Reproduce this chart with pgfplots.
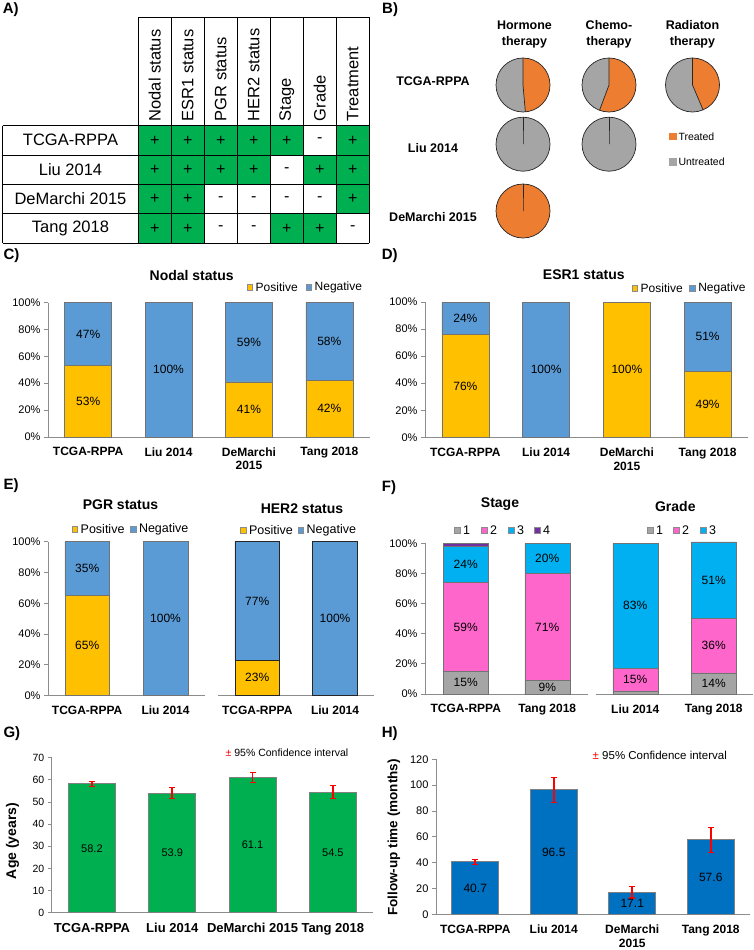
\documentclass[border=0pt]{standalone}
\usepackage{fontspec}
\setmainfont{Liberation Sans}
\usepackage{pgfplots}
\pgfplotsset{compat=1.18}

\definecolor{cPos}{HTML}{FFC000}
\definecolor{cNeg}{HTML}{5B9BD5}
\definecolor{cGreen}{HTML}{00B050}
\definecolor{cBlue}{HTML}{0070C0}
\definecolor{cOrange}{HTML}{ED7D31}
\definecolor{cGray}{HTML}{A5A5A5}
\definecolor{cPink}{HTML}{FF66CC}
\definecolor{cCyan}{HTML}{00B0F0}
\definecolor{cPurple}{HTML}{7030A0}
\definecolor{cAxis}{HTML}{8C8C8C}

\newcommand\fsz[2]{\fontsize{#1}{#2}\selectfont}

\pgfplotsset{
  myBase/.style={scale only axis, clip=false,
    /pgf/number format/assume math mode=true,
    axis line style={cAxis, line width=0.8pt},
    tick style={cAxis, line width=0.8pt},
    tick align=outside, major tick length=4pt,
    xtick style={draw=none},
    xticklabel style={font=\fsz{12}{13.5}\bfseries, align=center, yshift=-3pt},
    yticklabel style={font=\fsz{11}{12}},
    axis x line*=bottom, axis y line*=left,
  },
  myPct/.style={myBase, ybar stacked, ymin=0, ymax=100, ytick={0,20,...,100},
    yticklabel={\pgfmathprintnumber{\tick}\%}},
  myFour/.style={xtick={0,1,2,3}, xmin=-0.5, xmax=3.5,
    xticklabels={TCGA-RPPA, Liu 2014, {DeMarchi\\2015}, Tang 2018}},
}

% pie: centre x, centre y (pixels from top), share treated in percent
\newcommand\drawpie[3]{%
  \fill[cGray] (#1,#2) circle[radius=27pt];
  \fill[cOrange] (#1,#2) -- ++(0pt,27pt) arc[start angle=90, delta angle=-3.6*#3, radius=27pt] -- cycle;
  \draw[black!85, line width=0.7pt] (#1,#2) circle[radius=27pt];
  \draw[black!85, line width=0.7pt] (#1,#2) ++(0pt,27pt) -- (#1,#2) -- ++(90-3.6*#3:27pt);
}

\begin{document}
\begin{tikzpicture}

% ---------- C) nodal status
\begin{axis}[myPct, myFour, at={(48pt,-437pt)}, anchor=south west,
  width=321.5pt, height=134.5pt, bar width=47pt]
  \addplot[fill=cPos, draw=black!55, line width=0.5pt] coordinates {(0,53) (1,0) (2,41) (3,42)};
  \addplot[fill=cNeg, draw=black!55, line width=0.5pt] coordinates {(0,47) (1,100) (2,59) (3,58)};
  \coordinate (c1) at (axis cs:0,26.5);  \coordinate (c2) at (axis cs:0,76.5);
  \coordinate (c3) at (axis cs:1,50);
  \coordinate (c4) at (axis cs:2,20.5);  \coordinate (c5) at (axis cs:2,70.5);
  \coordinate (c6) at (axis cs:3,21);    \coordinate (c7) at (axis cs:3,71);
\end{axis}
\begin{scope}[every node/.style={font=\fsz{12}{12}}]
  \node at (c1) {53\%}; \node at (c2) {47\%}; \node at (c3) {100\%};
  \node at (c4) {41\%}; \node at (c5) {59\%}; \node at (c6) {42\%}; \node at (c7) {58\%};
\end{scope}

% ---------- D) ESR1 status
\begin{axis}[myPct, myFour, at={(425pt,-437.3pt)}, anchor=south west,
  width=323pt, height=135.3pt, bar width=47pt]
  \addplot[fill=cPos, draw=black!55, line width=0.5pt] coordinates {(0,76) (1,0) (2,100) (3,49)};
  \addplot[fill=cNeg, draw=black!55, line width=0.5pt] coordinates {(0,24) (1,100) (2,0) (3,51)};
  \coordinate (d1) at (axis cs:0,38);    \coordinate (d2) at (axis cs:0,88);
  \coordinate (d3) at (axis cs:1,50);    \coordinate (d4) at (axis cs:2,50);
  \coordinate (d5) at (axis cs:3,24.5);  \coordinate (d6) at (axis cs:3,74.5);
\end{axis}
\begin{scope}[every node/.style={font=\fsz{12}{12}}]
  \node at (d1) {76\%}; \node at (d2) {24\%}; \node at (d3) {100\%};
  \node at (d4) {100\%}; \node at (d5) {49\%}; \node at (d6) {51\%};
\end{scope}

% ---------- E) PGR status
\begin{axis}[myPct, at={(48pt,-695.5pt)}, anchor=south west,
  width=156.7pt, height=153.8pt, bar width=44.5pt,
  xtick={0,1}, xmin=-0.5, xmax=1.5, xticklabels={TCGA-RPPA, Liu 2014}]
  \addplot[fill=cPos, draw=black!55, line width=0.5pt] coordinates {(0,65) (1,0)};
  \addplot[fill=cNeg, draw=black!55, line width=0.5pt] coordinates {(0,35) (1,100)};
  \coordinate (e1) at (axis cs:0,32.5);  \coordinate (e2) at (axis cs:0,82.5);
  \coordinate (e3) at (axis cs:1,50);
\end{axis}

% ---------- E) HER2 status
\begin{axis}[myPct, at={(218.3pt,-695.5pt)}, anchor=south west,
  width=155.7pt, height=153.8pt, bar width=44.5pt, axis y line=none,
  xtick={0,1}, xmin=-0.5, xmax=1.5, xticklabels={TCGA-RPPA, Liu 2014}]
  \addplot[fill=cPos, draw=black!85, line width=0.9pt] coordinates {(0,23) (1,0)};
  \addplot[fill=cNeg, draw=black!85, line width=0.9pt] coordinates {(0,77) (1,100)};
  \coordinate (e4) at (axis cs:0,11.5);  \coordinate (e5) at (axis cs:0,61.5);
  \coordinate (e6) at (axis cs:1,50);
\end{axis}
\begin{scope}[every node/.style={font=\fsz{12}{12}}]
  \node at (e1) {65\%}; \node at (e2) {35\%}; \node at (e3) {100\%};
  \node at (e4) {23\%}; \node at (e5) {77\%}; \node at (e6) {100\%};
\end{scope}

% ---------- F) stage
\begin{axis}[myPct, at={(425pt,-694pt)}, anchor=south west,
  width=163pt, height=150.7pt, bar width=45pt,
  xtick={0,1}, xmin=-0.5, xmax=1.5, xticklabels={TCGA-RPPA, Tang 2018}]
  \addplot[fill=cGray, draw=black!55, line width=0.5pt] coordinates {(0,15) (1,9)};
  \addplot[fill=cPink, draw=black!55, line width=0.5pt] coordinates {(0,59) (1,71)};
  \addplot[fill=cCyan, draw=black!55, line width=0.5pt] coordinates {(0,24) (1,20)};
  \addplot[fill=cPurple, draw=black!55, line width=0.5pt] coordinates {(0,2) (1,0)};
  \coordinate (f1) at (axis cs:0,7.5);   \coordinate (f2) at (axis cs:0,44.5);
  \coordinate (f3) at (axis cs:0,86);
  \coordinate (f4) at (axis cs:1,4.5);   \coordinate (f5) at (axis cs:1,44.5);
  \coordinate (f6) at (axis cs:1,90);
\end{axis}

% ---------- F) grade
\begin{axis}[myPct, at={(596pt,-694pt)}, anchor=south west,
  width=157pt, height=150.7pt, bar width=45pt, axis y line=none,
  xtick={0,1}, xmin=-0.5, xmax=1.5, xticklabels={Liu 2014, Tang 2018}]
  \addplot[fill=cGray, draw=black!55, line width=0.5pt] coordinates {(0,2) (1,14)};
  \addplot[fill=cPink, draw=black!55, line width=0.5pt] coordinates {(0,15) (1,36)};
  \addplot[fill=cCyan, draw=black!55, line width=0.5pt] coordinates {(0,83) (1,51)};
  \coordinate (g1) at (axis cs:0,9.5);   \coordinate (g2) at (axis cs:0,58.5);
  \coordinate (g3) at (axis cs:1,7);     \coordinate (g4) at (axis cs:1,32);
  \coordinate (g5) at (axis cs:1,75.5);
\end{axis}
\begin{scope}[every node/.style={font=\fsz{12}{12}}]
  \node at (f1) {15\%}; \node at (f2) {59\%}; \node at (f3) {24\%};
  \node at (f4) {9\%};  \node at (f5) {71\%}; \node at (f6) {20\%};
  \node at (g1) {15\%}; \node at (g2) {83\%};
  \node at (g3) {14\%}; \node at (g4) {36\%}; \node at (g5) {51\%};
\end{scope}

% ---------- G) age
\begin{axis}[myBase, ybar, at={(51.8pt,-912.7pt)}, anchor=south west,
  width=321.2pt, height=155pt, bar width=47pt,
  ymin=0, ymax=70, ytick={0,10,...,70},
  yticklabel style={font=\fsz{10.5}{11}},
  xtick={0,1,2,3}, xmin=-0.5, xmax=3.5,
  xticklabels={TCGA-RPPA, Liu 2014, DeMarchi 2015, Tang 2018},
  xticklabel style={font=\fsz{13}{14}\bfseries},
  ylabel={Age (years)},
  ylabel style={font=\fsz{14}{14}\bfseries, at={(axis description cs:-0.122,0.463)}, anchor=center}]
  \addplot[fill=cGreen, draw=black!50, line width=0.9pt,
    error bars/.cd, y dir=both, y explicit,
    error bar style={red, line width=1.6pt},
    error mark options={red, line width=1.2pt, mark size=3pt, rotate=90}]
    coordinates {(0,58.2) +- (0,1.1) (1,53.9) +- (0,2.5) (2,61.1) +- (0,2.4) (3,54.5) +- (0,2.9)};
  \node[font=\fsz{11}{11}] at (axis cs:0,29.1) {58.2};
  \node[font=\fsz{11}{11}] at (axis cs:1,26.95) {53.9};
  \node[font=\fsz{11}{11}] at (axis cs:2,30.55) {61.1};
  \node[font=\fsz{11}{11}] at (axis cs:3,27.25) {54.5};
\end{axis}

% ---------- H) follow-up
\begin{axis}[myBase, ybar, at={(436pt,-914.3pt)}, anchor=south west,
  width=314pt, height=155pt, bar width=47pt,
  ymin=0, ymax=120, ytick={0,20,...,120}, myFour,
  ylabel={Follow-up time (months)},
  ylabel style={font=\fsz{13.5}{14}\bfseries, at={(axis description cs:-0.134,0.495)}, anchor=center}]
  \addplot[fill=cBlue, draw=black!50, line width=0.9pt,
    error bars/.cd, y dir=both, y explicit,
    error bar style={red, line width=1.6pt},
    error mark options={red, line width=1.2pt, mark size=3pt, rotate=90}]
    coordinates {(0,40.7) +- (0,2.0) (1,96.5) +- (0,9.7) (2,17.1) +- (0,4.4) (3,57.6) +- (0,9.6)};
  \node[font=\fsz{12}{12}] at (axis cs:0,20.35) {40.7};
  \node[font=\fsz{12}{12}] at (axis cs:1,48.25) {96.5};
  \node[font=\fsz{12}{12}] at (axis cs:2,8.55) {17.1};
  \node[font=\fsz{12}{12}] at (axis cs:3,28.8) {57.6};
\end{axis}

% ---------- text, table, pies, legends (pixel coordinates, y downwards)
\begin{scope}[x=1pt, y=-1pt]
  % B) treatment pies (share treated, %)
  \drawpie{523}{85}{48.6}
  \drawpie{609}{85}{55.7}
  \drawpie{692.5}{85}{43.6}
  \drawpie{523}{144.2}{0}
  \drawpie{609}{144.2}{0}
  \drawpie{523}{211}{100}

  % panel letters
  \node[anchor=west, inner sep=0pt, font=\fsz{15}{15}\bfseries] at (2.7,10) {A)};
  \node[anchor=west, inner sep=0pt, font=\fsz{15}{15}\bfseries] at (382,10) {B)};
  \node[anchor=west, inner sep=0pt, font=\fsz{15}{15}\bfseries] at (3.3,256) {C)};
  \node[anchor=west, inner sep=0pt, font=\fsz{15}{15}\bfseries] at (381.7,256) {D)};
  \node[anchor=west, inner sep=0pt, font=\fsz{15}{15}\bfseries] at (3.3,486) {E)};
  \node[anchor=west, inner sep=0pt, font=\fsz{15}{15}\bfseries] at (381.7,487.5) {F)};
  \node[anchor=west, inner sep=0pt, font=\fsz{15}{15}\bfseries] at (3.3,734) {G)};
  \node[anchor=west, inner sep=0pt, font=\fsz{15}{15}\bfseries] at (381.7,734) {H)};

  % A) table
  \foreach \r/\row in {0/{1,1,1,1,1,0,1},1/{1,1,1,1,0,1,1},2/{1,1,0,0,0,0,1},3/{1,1,0,0,1,1,0}}{
    \foreach \v [count=\c from 0] in \row {
      \pgfmathsetmacro\xl{138.3+33*\c}
      \pgfmathsetmacro\yt{125.7+29.33*\r}
      \ifnum\v=1
        \fill[cGreen] (\xl,\yt) rectangle ++(33,29.33);
        \node[font=\fsz{16}{16}] at (\xl+16.5,\yt+14.7) {+};
      \else
        \node[font=\fsz{16}{16}] at (\xl+16.5,\yt+14.7) {-};
      \fi
    }
  }
  \foreach \c in {0,...,7} \draw[black, line width=0.8pt] (138.3+33*\c,17.3) -- (138.3+33*\c,243);
  \draw[black, line width=0.8pt] (138.3,17.3) -- (369.3,17.3);
  \foreach \y in {125.7,155,184.3,213.7,243} \draw[black, line width=0.8pt] (2.7,\y) -- (369.3,\y);
  \draw[black, line width=0.8pt] (2.7,125.7) -- (2.7,243);
  \foreach \t [count=\c from 0] in {Nodal status, ESR1 status, PGR status, HER2 status, Stage, Grade, Treatment}
    \node[rotate=90, anchor=west, inner sep=0pt, font=\fsz{16.5}{17}] at (138.3+33*\c+16.5,121.5) {\t};
  \foreach \t [count=\r from 0] in {TCGA-RPPA, Liu 2014, DeMarchi 2015, Tang 2018}
    \node[font=\fsz{16.5}{17}] at (70.5,140.3+29.33*\r) {\t};

  % B) labels
  \node[font=\fsz{12.5}{16}\bfseries, align=center] at (524.5,34) {Hormone\\therapy};
  \node[font=\fsz{12.5}{16}\bfseries, align=center] at (609,34) {Chemo-\\therapy};
  \node[font=\fsz{12.5}{16}\bfseries, align=center] at (692.5,34) {Radiaton\\therapy};
  \node[font=\fsz{12.5}{16}\bfseries] at (433,81) {TCGA-RPPA};
  \node[font=\fsz{12.5}{16}\bfseries] at (433,148) {Liu 2014};
  \node[font=\fsz{12.5}{16}\bfseries] at (433,216.7) {DeMarchi 2015};
  \fill[cOrange] (669.3,132.7) rectangle (676.7,140);
  \node[anchor=west, inner sep=0pt, font=\fsz{10.5}{11}] at (678.3,136.3) {Treated};
  \fill[cGray] (669.3,158.3) rectangle (676.7,165.7);
  \node[anchor=west, inner sep=0pt, font=\fsz{10.5}{11}] at (678.3,162) {Untreated};

  % chart titles
  \node[font=\fsz{14}{14}\bfseries] at (191.7,275) {Nodal status};
  \node[font=\fsz{14}{14}\bfseries] at (583.8,275) {ESR1 status};
  \node[font=\fsz{14}{14}\bfseries] at (120.5,504.3) {PGR status};
  \node[font=\fsz{14}{14}\bfseries] at (302,508.3) {HER2 status};
  \node[font=\fsz{14}{14}\bfseries] at (500,504.3) {Stage};
  \node[font=\fsz{14}{14}\bfseries] at (675.3,506.7) {Grade};

  % legends
  \foreach \lx/\ly/\lc/\lt/\ls in {
      246.7/287.3/cPos/Positive/12, 305.7/287.3/cNeg/Negative/12,
      631.7/288.3/cPos/Positive/12, 689.3/288.3/cNeg/Negative/12,
      71.7/529/cPos/Positive/12.5, 130/529/cNeg/Negative/12.5,
      240/530/cPos/Positive/12.5, 297.7/530/cNeg/Negative/12.5,
      454/530/cGray/1/12.5, 481/530/cPink/2/12.5, 508/530/cCyan/3/12.5, 534/530/cPurple/4/12.5,
      647/530/cGray/1/12.5, 673/530/cPink/2/12.5, 700/530/cCyan/3/12.5} {
    \filldraw[fill=\lc, draw=black!45, line width=0.4pt] (\lx,\ly-3) rectangle ++(5.8,6);
    \node[anchor=west, inner sep=0pt, font=\fsz{\ls}{\ls}] at (\lx+8.8,\ly) {\lt};
  }

  % confidence interval notes
  \node[anchor=west, inner sep=0pt, font=\fsz{10.5}{11}] at (225.5,752.7) {\textcolor{red}{±} 95\% Confidence interval};
  \node[anchor=west, inner sep=0pt, font=\fsz{11.5}{12}] at (592.5,755) {\textcolor{red}{±} 95\% Confidence interval};
\end{scope}

\pgfresetboundingbox
\useasboundingbox (0pt,0pt) rectangle (753pt,-950pt);
\end{tikzpicture}
\end{document}
